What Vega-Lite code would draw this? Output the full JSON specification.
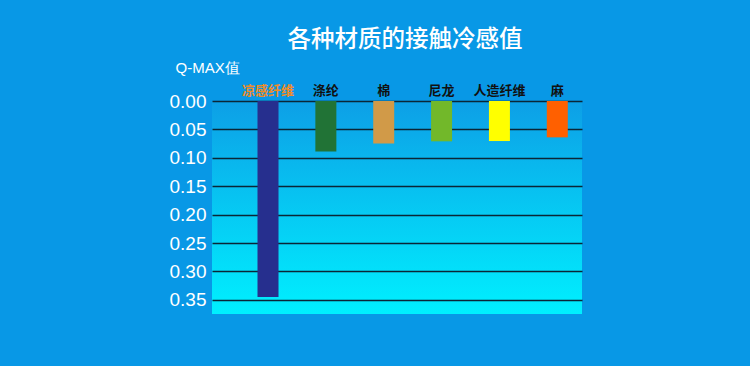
{
  "$schema": "https://vega.github.io/schema/vega-lite/v6.json",
  "width": 370,
  "height": 213,
  "autosize": {"type": "none"},
  "padding": {"left": 212, "top": 101, "right": 168, "bottom": 52},
  "background": "#0898e6",
  "title": {
    "text": "各种材质的接触冷感值",
    "color": "white",
    "fontSize": 23.5,
    "font": "Noto Sans CJK SC",
    "fontWeight": 500,
    "anchor": "middle",
    "dx": 8,
    "offset": 9
  },
  "config": {
    "view": {
      "stroke": null,
      "fill": {
        "gradient": "linear",
        "x1": 0, "y1": 0, "x2": 0, "y2": 1,
        "stops": [
          {"offset": 0, "color": "#0d9fe6"},
          {"offset": 1, "color": "#00f0ff"}
        ]
      }
    }
  },
  "data": {
    "values": [
      {"material": "凉感纤维", "qmax": 0.345, "color": "#262f8e"},
      {"material": "涤纶", "qmax": 0.089, "color": "#217336"},
      {"material": "棉", "qmax": 0.075, "color": "#d19a48"},
      {"material": "尼龙", "qmax": 0.071, "color": "#72b82a"},
      {"material": "人造纤维", "qmax": 0.0705, "color": "#ffff00"},
      {"material": "麻", "qmax": 0.064, "color": "#ff6000"}
    ]
  },
  "mark": {"type": "bar"},
  "encoding": {
    "x": {
      "field": "material",
      "type": "nominal",
      "sort": null,
      "scale": {"paddingInner": 0.637, "paddingOuter": 0.516, "align": 0.762},
      "axis": {
        "orient": "top",
        "title": null,
        "labelAngle": 0,
        "domain": false,
        "ticks": false,
        "labelPadding": 4,
        "labelFont": "Noto Sans CJK SC",
        "labelFontSize": 13,
        "labelFontWeight": "bold",
        "labelColor": {"condition": {"test": "datum.value === '凉感纤维'", "value": "#f08c28"}, "value": "#111111"}
      }
    },
    "y": {
      "field": "qmax",
      "type": "quantitative",
      "scale": {"domain": [0, 0.375], "reverse": true, "nice": false, "zero": true},
      "axis": {
        "values": [0, 0.05, 0.1, 0.15, 0.2, 0.25, 0.3, 0.35],
        "format": ".2f",
        "labelColor": "white",
        "labelFont": "Liberation Sans",
        "labelFontSize": 19,
        "labelPadding": 6,
        "labelBaseline": "middle",
        "grid": true,
        "gridColor": "#0b2636",
        "gridWidth": 1.5,
        "gridOpacity": 1,
        "domain": false,
        "ticks": false,
        "title": "Q-MAX值",
        "titleAngle": 0,
        "titleX": -37,
        "titleY": -34,
        "titleAlign": "left",
        "titleBaseline": "middle",
        "titleColor": "white",
        "titleFont": "Liberation Sans",
        "titleFontSize": 15,
        "titleFontWeight": "normal"
      }
    },
    "color": {"field": "color", "type": "nominal", "scale": null, "legend": null}
  }
}
